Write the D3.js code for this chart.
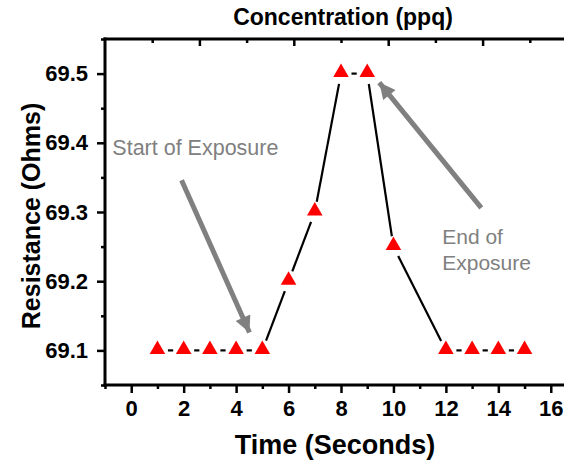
<!DOCTYPE html>
<html>
<head>
<meta charset="utf-8">
<script src="https://cdn.jsdelivr.net/npm/d3@7"></script>
<style>
  html, body { margin: 0; padding: 0; background: #fff; }
  svg { display: block; }
  text { font-family: "Liberation Sans", Arial, sans-serif; }
</style>
</head>
<body>
<svg id="chart" width="564" height="460"></svg>
<script>
// ---- data ----
const times = [1, 2, 3, 4, 5, 6, 7, 8, 9, 10, 12, 13, 14, 15];
const resistance = [69.1, 69.1, 69.1, 69.1, 69.1, 69.2, 69.3, 69.5, 69.5, 69.25, 69.1, 69.1, 69.1, 69.1];
const xTicks = [0, 2, 4, 6, 8, 10, 12, 14, 16];
const xMinorTicks = [-1, 1, 3, 5, 7, 9, 11, 13, 15, 17];
const yTicks = [69.1, 69.2, 69.3, 69.4, 69.5];
const yMinorTicks = [69.05, 69.15, 69.25, 69.35, 69.45, 69.55];
const concMajorTicks = [0, 2, 4, 6, 8];
const concMinorTicks = [-1, 1, 3, 5, 7];
const xTitle = "Time (Seconds)";
const yTitle = "Resistance (Ohms)";
const topTitle = "Concentration (ppq)";
const startLabel = ["Start of Exposure"];
const endLabel = ["End of", "Exposure"];
// annotation anchors in data units
const startArrow = { from: [1.92, 69.346], to: [4.51, 69.126] };
const endArrow = { from: [13.35, 69.306], to: [9.46, 69.487] };
const startText = [-0.72, 69.383];
const endText = [11.86, 69.254];

(function () {
// ---- layout ----
const svg = d3.select("#chart");
const mLeft = 105, mRight = 577, mTop = 39, mBottom = 385;

const x = d3.scaleLinear().domain([-1, 17]).range([mLeft, mRight]);
const xc = d3.scaleLinear().domain([-2, 8]).range([mLeft, mRight]);
const y = d3.scaleLinear().domain([69.05, 69.55]).range([mBottom, mTop]);

const axisColor = "#000";
const aw = 3;

function drawAxis(g, axisGen, minorGen) {
  const ga = g.append("g").call(axisGen);
  const gm = g.append("g").call(minorGen);
  [ga, gm].forEach(s => {
    s.select(".domain").remove();
    s.selectAll(".tick line").attr("stroke", axisColor).attr("stroke-width", 2.5);
  });
  gm.selectAll(".tick text").remove();
  return ga;
}

// bottom axis
const gx = svg.append("g").attr("transform", `translate(0,${mBottom})`);
const xa = drawAxis(gx,
  d3.axisBottom(x).tickValues(xTicks).tickSize(8).tickPadding(7).tickFormat(d3.format("d")),
  d3.axisBottom(x).tickValues(xMinorTicks).tickSize(4).tickFormat(""));
xa.selectAll(".tick text").attr("font-size", 22).attr("font-weight", "bold").attr("fill", "#000");

// left axis
const gy = svg.append("g").attr("transform", `translate(${mLeft},0)`);
const ya = drawAxis(gy,
  d3.axisLeft(y).tickValues(yTicks).tickSize(8).tickPadding(9).tickFormat(d3.format(".1f")),
  d3.axisLeft(y).tickValues(yMinorTicks).tickSize(4).tickFormat(""));
ya.selectAll(".tick text").attr("font-size", 22).attr("font-weight", "bold").attr("fill", "#000");

// top axis (concentration), ticks inward
const gt = svg.append("g").attr("transform", `translate(0,${mTop})`);
drawAxis(gt,
  d3.axisBottom(xc).tickValues(concMajorTicks).tickSize(7).tickFormat(""),
  d3.axisBottom(xc).tickValues(concMinorTicks).tickSize(4).tickFormat(""));

// frame lines
const frame = [[mLeft, mBottom, mRight, mBottom], [mLeft, mTop, mRight, mTop], [mLeft, mTop, mLeft, mBottom]];
svg.append("g").selectAll("line").data(frame).join("line")
  .attr("x1", d => d[0]).attr("y1", d => d[1]).attr("x2", d => d[2]).attr("y2", d => d[3])
  .attr("stroke", axisColor).attr("stroke-width", aw).attr("stroke-linecap", "square");

// axis titles
svg.append("text").attr("x", 335).attr("y", 454)
  .attr("text-anchor", "middle").attr("font-size", 27).attr("font-weight", "bold").text(xTitle);
svg.append("text").attr("transform", `translate(40,${(mTop + mBottom) / 2 + 4}) rotate(-90)`)
  .attr("text-anchor", "middle").attr("font-size", 25).attr("font-weight", "bold").text(yTitle);
svg.append("text").attr("x", 343).attr("y", 25)
  .attr("text-anchor", "middle").attr("font-size", 23).attr("font-weight", "bold").text(topTitle);

// connecting line segments with gaps near markers
const pts = times.map((t, i) => [x(t), y(resistance[i])]);
const gap = 10.5;
const segs = [];
for (let i = 0; i < pts.length - 1; i++) {
  const [x1, y1] = pts[i], [x2, y2] = pts[i + 1];
  const len = Math.hypot(x2 - x1, y2 - y1);
  if (len <= 2 * gap) continue;
  const ux = (x2 - x1) / len, uy = (y2 - y1) / len;
  segs.push([x1 + ux * gap, y1 + uy * gap, x2 - ux * gap, y2 - uy * gap]);
}
svg.append("g").selectAll("line").data(segs).join("line")
  .attr("x1", d => d[0]).attr("y1", d => d[1]).attr("x2", d => d[2]).attr("y2", d => d[3])
  .attr("stroke", "#000").attr("stroke-width", 2.2);

// markers
svg.append("g").selectAll("path").data(times).join("path")
  .attr("d", d3.symbol().type(d3.symbolTriangle).size(105))
  .attr("transform", (t, i) => `translate(${x(t)},${y(resistance[i]) - 1})`)
  .attr("fill", "#ff0000");

// arrows
const defs = svg.append("defs");
defs.append("marker").attr("id", "ah").attr("viewBox", "0 0 10 10")
  .attr("refX", 10).attr("refY", 5).attr("markerWidth", 3.6).attr("markerHeight", 3.2)
  .attr("markerUnits", "strokeWidth").attr("orient", "auto")
  .append("path").attr("d", "M0,0 L10,5 L0,10 Z").attr("fill", "#808080");
[startArrow, endArrow].forEach(a => {
  svg.append("line")
    .attr("x1", x(a.from[0])).attr("y1", y(a.from[1]))
    .attr("x2", x(a.to[0])).attr("y2", y(a.to[1]))
    .attr("stroke", "#808080").attr("stroke-width", 5)
    .attr("marker-end", "url(#ah)");
});

// annotation text
svg.append("text").attr("x", x(startText[0])).attr("y", y(startText[1]))
  .attr("font-size", 21.5).attr("fill", "#808080").text(startLabel[0]);
svg.append("text").selectAll("tspan").data(endLabel).join("tspan")
  .attr("x", x(endText[0])).attr("y", (d, i) => y(endText[1]) + i * 26)
  .attr("font-size", 21).attr("fill", "#808080").text(d => d);
})();
</script>
</body>
</html>
